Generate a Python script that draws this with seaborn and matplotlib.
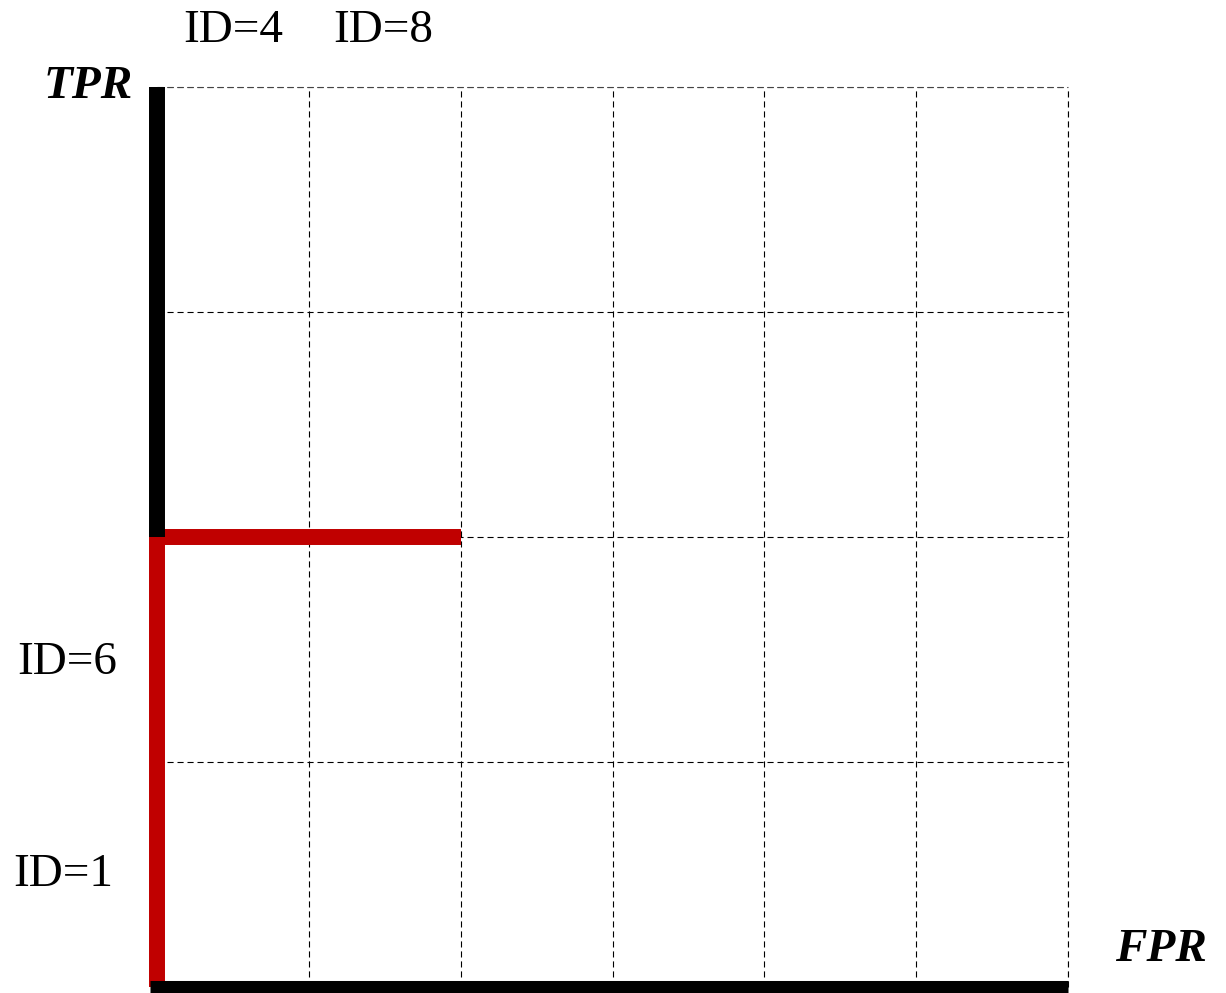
import seaborn as sns
import matplotlib.pyplot as plt
from matplotlib import font_manager

# ROC-style step path (FPR, TPR in grid units)
roc_fpr = [0, 0, 2]
roc_tpr = [0, 2, 2]
# remaining black segment on the TPR axis
axis_fpr = [0, 0]
axis_tpr = [2, 4]

x_ticks = [0, 1, 2, 3, 4, 5, 6]
y_ticks = [0, 1, 2, 3, 4]

# ID labels and where they sit (data units)
id_labels = ['ID=4', 'ID=8', 'ID=6', 'ID=1']
id_x = [0.5, 1.49, -0.59, -0.62]
id_y = [4.25, 4.25, 1.44, 0.50]

sns.set_style("white")

# pick a Times-like serif if one is installed
names = {f.name for f in font_manager.fontManager.ttflist}
serif = [n for n in ['Liberation Serif', 'Times New Roman', 'Nimbus Roman',
                     'TeX Gyre Termes', 'DejaVu Serif'] if n in names]
plt.rcParams['font.family'] = serif + ['DejaVu Sans']
plt.rcParams['text.color'] = 'black'

fig = plt.figure(figsize=(12.26, 9.93), dpi=100)
ax = fig.add_axes([157 / 1226, 6 / 993, (1068 - 157) / 1226, (987 - 87) / 993])

ax.set_xlim(0, 6)
ax.set_ylim(0, 4)
ax.set_xticks(x_ticks)
ax.set_yticks(y_ticks)
ax.tick_params(length=0, labelbottom=False, labelleft=False)
ax.grid(True, color='black', linestyle=(0, (5.5, 3.5)), linewidth=0.8)
for s in ax.spines.values():
    s.set_visible(False)
# dashed top and right border
ax.axhline(4, color='#444444', linestyle=(0, (5.5, 3.5)), linewidth=0.8, clip_on=False)
ax.axvline(6, color='black', linestyle=(0, (5.5, 3.5)), linewidth=0.8, clip_on=False)

sns.lineplot(x=roc_fpr, y=roc_tpr, sort=False, estimator=None, ax=ax,
             color='#c00000', linewidth=11.5, solid_capstyle='butt',
             solid_joinstyle='miter', clip_on=False, zorder=3)
sns.lineplot(x=axis_fpr, y=axis_tpr, sort=False, estimator=None, ax=ax,
             color='black', linewidth=11.5, solid_capstyle='butt',
             clip_on=False, zorder=4)
# bottom FPR axis, starting under the thick TPR line
ax.plot([x_ticks[0] - 0.047, x_ticks[-1]], [0, 0], color='black', linewidth=9.4,
        solid_capstyle='butt', clip_on=False, zorder=5)

for lab, x, y in zip(id_labels, id_x, id_y):
    ax.text(x, y, lab, fontsize=34, color='black', ha='center', va='center',
            clip_on=False)

ax.text(-0.45, 4.0, 'TPR', fontsize=34, fontweight='bold', fontstyle='italic',
        color='black', ha='center', va='center', clip_on=False)
ax.text(6.61, 0.165, 'FPR', fontsize=34, fontweight='bold', fontstyle='italic',
        color='black', ha='center', va='center', clip_on=False)

fig.savefig('out.png', dpi=100, facecolor='white')
